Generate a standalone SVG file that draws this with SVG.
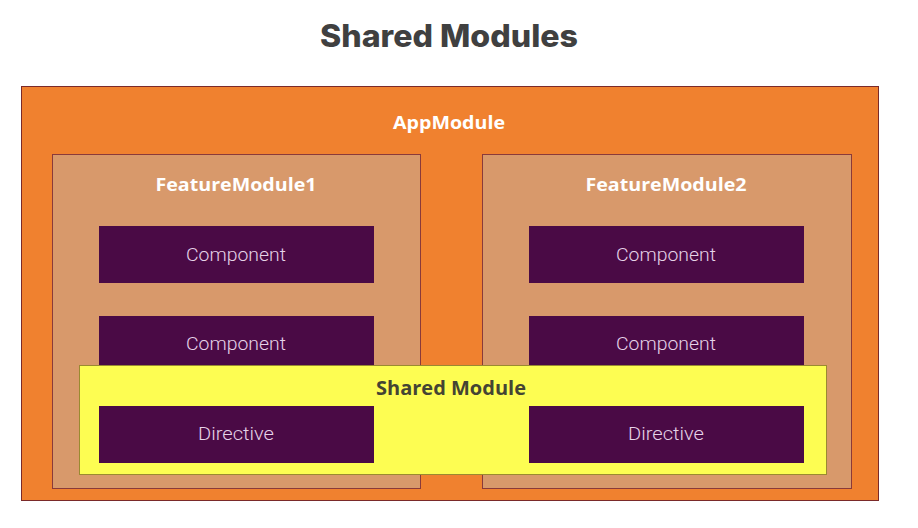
<svg xmlns="http://www.w3.org/2000/svg" width="918" height="528" viewBox="0 0 918 528">
<style>
.app{fill:#F0812F;stroke:#7a2a2a;stroke-width:1}
.feat{fill:#D8996B;stroke:#8a3a3a;stroke-width:1}
.shared{fill:#FDFD52;stroke:#9a8a30;stroke-width:1}
.item{fill:#4A0A45}
.title{font-family:Inter,"Open Sans",sans-serif;font-weight:800;font-size:31px;fill:#404040;text-anchor:middle}
.lbl{font-family:"Open Sans",Inter,sans-serif;font-weight:700;font-size:18px;fill:#ffffff;text-anchor:middle}
.slbl{font-family:"Open Sans",Inter,sans-serif;font-weight:700;font-size:19px;fill:#444433;text-anchor:middle}
.itxt{font-family:Roboto,"Open Sans",sans-serif;font-weight:300;font-size:18px;fill:#E6D3E8;text-anchor:middle}
</style>
<text class="title" x="449" y="47" textLength="258" lengthAdjust="spacingAndGlyphs">Shared Modules</text>
<g id="appmodule">
<rect class="app" x="21.5" y="86.5" width="857" height="414"/>
<text class="lbl" x="449" y="129" textLength="112" lengthAdjust="spacingAndGlyphs">AppModule</text>
</g>
<g id="featuremodule1">
<rect class="feat" x="52.5" y="154.5" width="368" height="334"/>
<text class="lbl" x="236" y="191" textLength="161" lengthAdjust="spacingAndGlyphs">FeatureModule1</text>
</g>
<g id="featuremodule2">
<rect class="feat" x="482.5" y="154.5" width="369" height="334"/>
<text class="lbl" x="666" y="191" textLength="161" lengthAdjust="spacingAndGlyphs">FeatureModule2</text>
</g>
<g id="fm1-component1">
<rect class="item" x="99" y="226" width="275" height="57"/>
<text class="itxt" x="236" y="261" textLength="100" lengthAdjust="spacingAndGlyphs">Component</text>
</g>
<g id="fm1-component2">
<rect class="item" x="99" y="316" width="275" height="57"/>
<text class="itxt" x="236" y="350" textLength="100" lengthAdjust="spacingAndGlyphs">Component</text>
</g>
<g id="fm2-component1">
<rect class="item" x="529" y="226" width="275" height="57"/>
<text class="itxt" x="666" y="261" textLength="100" lengthAdjust="spacingAndGlyphs">Component</text>
</g>
<g id="fm2-component2">
<rect class="item" x="529" y="316" width="275" height="57"/>
<text class="itxt" x="666" y="350" textLength="100" lengthAdjust="spacingAndGlyphs">Component</text>
</g>
<g id="sharedmodule">
<rect class="shared" x="79.5" y="365.5" width="747" height="109"/>
<text class="slbl" x="451" y="395" textLength="150" lengthAdjust="spacingAndGlyphs">Shared Module</text>
</g>
<g id="directive1">
<rect class="item" x="99" y="406" width="275" height="57"/>
<text class="itxt" x="236" y="440" textLength="76" lengthAdjust="spacingAndGlyphs">Directive</text>
</g>
<g id="directive2">
<rect class="item" x="529" y="406" width="275" height="57"/>
<text class="itxt" x="666" y="440" textLength="76" lengthAdjust="spacingAndGlyphs">Directive</text>
</g>
<g id="connectors"/>
</svg>
